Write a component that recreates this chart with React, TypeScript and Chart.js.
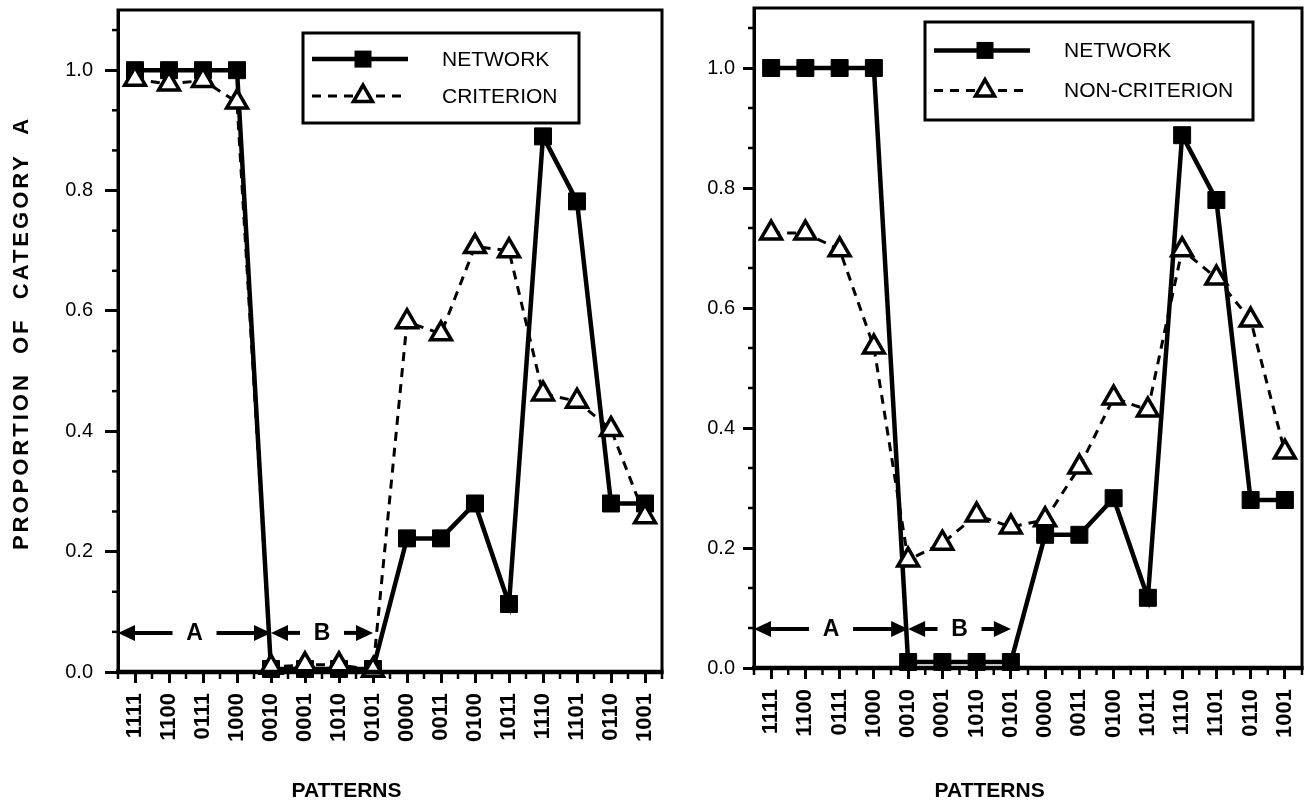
import React, { useEffect, useRef } from 'react';
import { Chart, registerables } from 'chart.js';

Chart.register(...registerables);

// ---- data ----
const PATTERNS = ['1111', '1100', '0111', '1000', '0010', '0001', '1010', '0101', '0000', '0011', '0100', '1011', '1110', '1101', '0110', '1001'];
const NETWORK_LEFT = [1.0, 1.0, 1.0, 1.0, 0.005, 0.005, 0.005, 0.005, 0.222, 0.222, 0.28, 0.113, 0.89, 0.782, 0.28, 0.28];
const CRITERION = [0.985, 0.977, 0.983, 0.947, 0.008, 0.012, 0.012, 0.003, 0.582, 0.562, 0.707, 0.7, 0.462, 0.45, 0.403, 0.258];
const NETWORK_RIGHT = [1.0, 1.0, 1.0, 1.0, 0.01, 0.01, 0.01, 0.01, 0.222, 0.222, 0.283, 0.117, 0.888, 0.78, 0.28, 0.28];
const NON_CRITERION = [0.725, 0.725, 0.697, 0.535, 0.18, 0.208, 0.255, 0.235, 0.247, 0.335, 0.45, 0.43, 0.697, 0.65, 0.58, 0.36];

const Y_TICKS = [0, 0.2, 0.4, 0.6, 0.8, 1.0];
const Y_MINOR_TICKS = [1 / 15, 2 / 15, 4 / 15, 5 / 15, 7 / 15, 8 / 15, 10 / 15, 11 / 15, 13 / 15, 14 / 15, 16 / 15];
const Y_MIN = 0;
const Y_MAX = 1.1;

const REGION_LABELS = ['A', 'B'];
const REGION_FROM = [-0.5, 4];
const REGION_TO = [4, 7];
const REGION_LEVEL = 0.065;

const X_TITLE = 'PATTERNS';
const Y_TITLE = 'PROPORTION  OF  CATEGORY  A';
const LEFT_LABELS = ['NETWORK', 'CRITERION'];
const RIGHT_LABELS = ['NETWORK', 'NON-CRITERION'];

const FONT = '"Liberation Sans", Arial, Helvetica, sans-serif';

function line(ctx: CanvasRenderingContext2D, x0: number, y0: number, x1: number, y1: number) {
  ctx.beginPath();
  ctx.moveTo(x0, y0);
  ctx.lineTo(x1, y1);
  ctx.stroke();
}

function arrowHead(ctx: CanvasRenderingContext2D, tipX: number, y: number, dir: number) {
  const len = 17;
  const half = 8;
  ctx.beginPath();
  ctx.moveTo(tipX, y);
  ctx.lineTo(tipX - dir * len, y - half);
  ctx.lineTo(tipX - dir * len, y + half);
  ctx.closePath();
  ctx.fill();
}

function marker(ctx: CanvasRenderingContext2D, style: string, x: number, y: number) {
  if (style === 'rect') {
    ctx.fillStyle = '#000';
    ctx.fillRect(x - 8.5, y - 8.5, 17, 17);
  } else {
    const r = 11;
    ctx.beginPath();
    ctx.moveTo(x, y - r);
    ctx.lineTo(x + r * Math.sin((2 * Math.PI) / 3), y + r * 0.5);
    ctx.lineTo(x - r * Math.sin((2 * Math.PI) / 3), y + r * 0.5);
    ctx.closePath();
    ctx.fillStyle = '#fff';
    ctx.fill();
    ctx.setLineDash([]);
    ctx.lineWidth = 3.5;
    ctx.strokeStyle = '#000';
    ctx.stroke();
  }
}

const decorPlugin = {
  id: 'paperDecor',
  afterDraw(chart: any, _args: any, opts: any) {
    const ctx: CanvasRenderingContext2D = chart.ctx;
    const { left, right, top, bottom } = chart.chartArea;
    const xs = chart.scales.x;
    const ys = chart.scales.y;
    ctx.save();
    ctx.strokeStyle = '#000';
    ctx.fillStyle = '#000';
    ctx.setLineDash([]);

    // frame
    ctx.lineWidth = 3;
    ctx.strokeRect(left, top, right - left, bottom - top);
    ctx.lineWidth = 4.5;
    line(ctx, left - 2, bottom, right + 1.5, bottom);

    // minor ticks
    ctx.lineWidth = 2.5;
    Y_MINOR_TICKS.forEach((v) => {
      const y = ys.getPixelForValue(v);
      line(ctx, left - 6, y, left, y);
    });
    for (let i = 0; i <= PATTERNS.length; i++) {
      const x = xs.getPixelForValue(i - 0.5);
      line(ctx, x, bottom, x, bottom + 7);
    }

    // region arrows
    const ay = ys.getPixelForValue(REGION_LEVEL);
    ctx.lineWidth = 4;
    ctx.font = `bold 23px ${FONT}`;
    ctx.textAlign = 'center';
    ctx.textBaseline = 'middle';
    REGION_LABELS.forEach((lab, i) => {
      const x0 = xs.getPixelForValue(REGION_FROM[i]);
      const x1 = xs.getPixelForValue(REGION_TO[i]);
      const xm = (x0 + x1) / 2;
      const gap = 22;
      line(ctx, x0 + 8, ay, xm - gap, ay);
      line(ctx, xm + gap, ay, x1 - 8, ay);
      arrowHead(ctx, x0, ay, -1);
      arrowHead(ctx, x1, ay, 1);
      ctx.fillText(lab, xm, ay + 1);
    });

    // legend box
    const lg = opts.legend;
    const bx = left + lg.dx;
    const by = top + lg.dy;
    ctx.fillStyle = '#fff';
    ctx.fillRect(bx, by, lg.w, lg.h);
    ctx.lineWidth = 3;
    ctx.strokeStyle = '#000';
    ctx.strokeRect(bx, by, lg.w, lg.h);
    chart.data.datasets.forEach((ds: any, i: number) => {
      const ry = by + lg.h * (i === 0 ? 0.29 : 0.7);
      ctx.save();
      ctx.strokeStyle = '#000';
      ctx.lineWidth = ds.borderWidth;
      ctx.setLineDash(ds.borderDash || []);
      line(ctx, bx + 9, ry, bx + 105, ry);
      ctx.restore();
      marker(ctx, ds.pointStyle, bx + 60, ry);
      ctx.fillStyle = '#000';
      ctx.font = `21px ${FONT}`;
      ctx.textAlign = 'left';
      ctx.textBaseline = 'middle';
      ctx.fillText(ds.label, bx + 139, ry + 1);
    });

    // axis titles
    ctx.fillStyle = '#000';
    ctx.font = `bold 21px ${FONT}`;
    ctx.textAlign = 'center';
    ctx.textBaseline = 'middle';
    ctx.fillText(X_TITLE, left + (right - left) * opts.xTitleFrac, opts.xTitleY);
    if (opts.yTitle) {
      ctx.save();
      ctx.translate(opts.yTitleX, (top + bottom) / 2 - 8);
      ctx.rotate(-Math.PI / 2);
      ctx.font = `bold 22px ${FONT}`;
      (ctx as any).letterSpacing = '3px';
      ctx.fillText(Y_TITLE, 0, 0);
      ctx.restore();
    }
    ctx.restore();
  },
};

function zeroPad(s: any) {
  s.paddingTop = 0;
  s.paddingBottom = 0;
  s.paddingLeft = 0;
  s.paddingRight = 0;
}

function makeConfig(isLeft: boolean): any {
  const labels = isLeft ? LEFT_LABELS : RIGHT_LABELS;
  return {
    type: 'line',
    data: {
      labels: PATTERNS,
      datasets: [
        {
          label: labels[0],
          data: isLeft ? NETWORK_LEFT : NETWORK_RIGHT,
          borderColor: '#000',
          backgroundColor: '#000',
          borderWidth: 4.5,
          pointStyle: 'rect',
          pointRadius: 12,
          pointBorderWidth: 1,
          pointBackgroundColor: '#000',
          pointBorderColor: '#000',
          order: 2,
          clip: false,
          tension: 0,
        },
        {
          label: labels[1],
          data: isLeft ? CRITERION : NON_CRITERION,
          borderColor: '#000',
          backgroundColor: '#fff',
          borderWidth: 3,
          borderDash: [9, 7],
          pointStyle: 'triangle',
          pointRadius: 12,
          pointBorderWidth: 3.5,
          pointBackgroundColor: '#fff',
          pointBorderColor: '#000',
          order: 1,
          clip: false,
          tension: 0,
        },
      ],
    },
    options: {
      animation: false,
      responsive: false,
      devicePixelRatio: 1,
      layout: {
        autoPadding: false,
        padding: { top: isLeft ? 10 : 8, right: isLeft ? 4 : 9, left: 0, bottom: 0 },
      },
      plugins: {
        legend: { display: false },
        tooltip: { enabled: false },
        paperDecor: {
          legend: isLeft ? { dx: 185, dy: 23, w: 276, h: 90 } : { dx: 171, dy: 14, w: 328, h: 98 },
          xTitleFrac: isLeft ? 0.42 : 0.43,
          xTitleY: 791,
          yTitle: isLeft,
          yTitleX: 22,
        },
      },
      scales: {
        x: {
          type: 'category',
          offset: true,
          grid: {
            display: true,
            drawOnChartArea: false,
            drawTicks: true,
            tickLength: 11,
            tickWidth: 3,
            tickColor: '#000',
            offset: false,
          },
          border: { display: true, color: '#000', width: 4 },
          ticks: {
            autoSkip: false,
            maxRotation: 90,
            minRotation: 90,
            padding: 10,
            color: '#000',
            font: { family: FONT, size: 22, weight: 'bold' },
          },
          afterFit: (s: any) => {
            s.height = isLeft ? 133 : 137;
            zeroPad(s);
          },
        },
        y: {
          min: Y_MIN,
          max: Y_MAX,
          afterBuildTicks: (s: any) => {
            s.ticks = Y_TICKS.map((v) => ({ value: v }));
          },
          ticks: {
            callback: (v: any) => Number(v).toFixed(1),
            padding: isLeft ? 12 : 8,
            color: '#000',
            font: { family: FONT, size: 20 },
          },
          grid: {
            display: true,
            drawOnChartArea: false,
            drawTicks: true,
            tickLength: isLeft ? 13 : 11,
            tickWidth: 3,
            tickColor: '#000',
          },
          border: { display: true, color: '#000', width: 3 },
          afterFit: (s: any) => {
            s.width = isLeft ? 118 : 88;
            zeroPad(s);
          },
        },
      },
    },
    plugins: [decorPlugin],
  };
}

export default function App() {
  const leftRef = useRef<HTMLCanvasElement>(null);
  const rightRef = useRef<HTMLCanvasElement>(null);

  useEffect(() => {
    document.body.style.margin = '0';
    const a = new Chart(leftRef.current as HTMLCanvasElement, makeConfig(true));
    const b = new Chart(rightRef.current as HTMLCanvasElement, makeConfig(false));
    return () => {
      a.destroy();
      b.destroy();
    };
  }, []);

  return (
    <div style={{ position: 'relative', width: 1311, height: 805, background: '#fff', overflow: 'hidden' }}>
      <canvas
        ref={leftRef}
        width={666}
        height={805}
        style={{ position: 'absolute', left: 0, top: 0, width: 666, height: 805 }}
      />
      <canvas
        ref={rightRef}
        width={645}
        height={805}
        style={{ position: 'absolute', left: 666, top: 0, width: 645, height: 805 }}
      />
    </div>
  );
}
